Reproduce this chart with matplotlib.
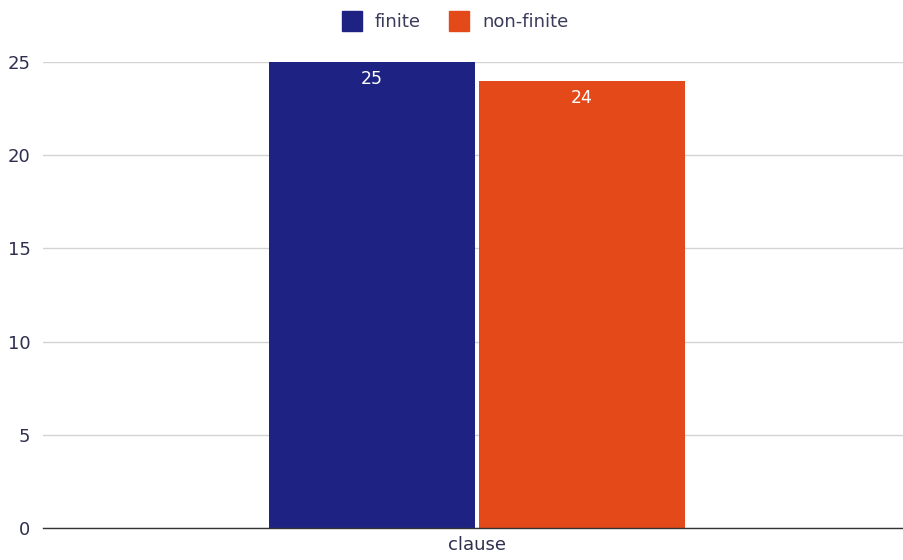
import matplotlib.pyplot as plt
import numpy as np
from matplotlib.lines import Line2D

# data
categories = ['clause']
series_names = ['finite', 'non-finite']
finite = [25]
non_finite = [24]
colors = ['#1e2383', '#e4491a']

fig = plt.figure(figsize=(9.04, 5.6), dpi=100)
ax = fig.add_axes([43 / 904, 32 / 560, 861 / 904, (528 - 62) / 560])

x = np.arange(len(categories))
width = 0.239
gap = 0.0025
bars1 = ax.bar(x - width / 2 - gap, finite, width, color=colors[0], zorder=3)
bars2 = ax.bar(x + width / 2 + gap, non_finite, width, color=colors[1], zorder=3)

# value labels inside the top of each bar
for bars in (bars1, bars2):
    for b in bars:
        ax.annotate(str(int(b.get_height())), (b.get_x() + b.get_width() / 2, b.get_height()),
                    xytext=(0, -6), textcoords='offset points', ha='center', va='top',
                    color='white', fontsize=12.5)

ax.set_xlim(-0.504, 0.496)
ax.set_ylim(0, 25)
ax.set_yticks([0, 5, 10, 15, 20, 25])
ax.set_xticks(x)
ax.set_xticklabels(categories)
ax.tick_params(axis='both', length=0, labelsize=13, colors='#2e2e4e')
ax.tick_params(axis='y', pad=9)
ax.tick_params(axis='x', pad=6)
ax.yaxis.grid(True, color='#d3d3d3', linewidth=1)
ax.set_axisbelow(True)
for s in ['top', 'right', 'left']:
    ax.spines[s].set_visible(False)
ax.spines['bottom'].set_color('#333333')
ax.spines['bottom'].set_linewidth(1)
ax.spines['bottom'].set_zorder(4)

# legend at the top
handles = [Line2D([], [], marker='s', linestyle='', markersize=14, color=c) for c in colors]
fig.legend(handles, series_names, loc='center', bbox_to_anchor=(0.504, 0.96), ncol=2,
           frameon=False, fontsize=13, labelcolor='#3a3a5a', handletextpad=0.8,
           columnspacing=1.6, handlelength=1.0)

plt.savefig('out.png', dpi=100)
